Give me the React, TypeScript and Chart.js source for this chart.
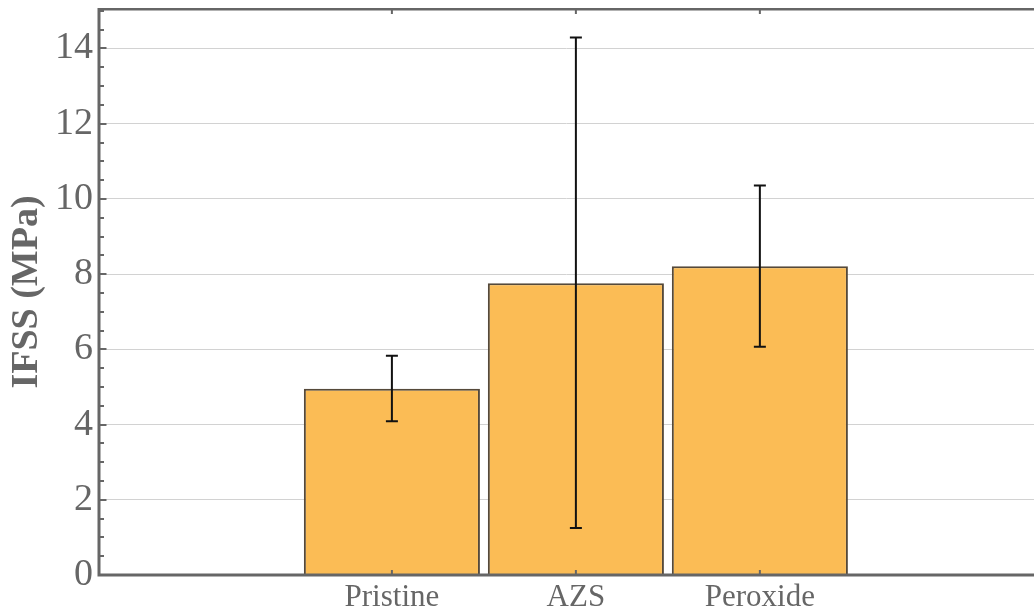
import React, { useEffect, useRef } from "react";
import { Chart, registerables } from "chart.js";

Chart.register(...registerables);

const categories = ["Pristine", "AZS", "Peroxide"];
const categoryPositions = [1, 2, 3];
const ifssMean = [4.95, 7.76, 8.21];
const errorLow = [4.09, 1.25, 6.07];
const errorHigh = [5.83, 14.29, 10.36];
const yTickValues = [0, 2, 4, 6, 8, 10, 12, 14];

const AXIS_COLOR = "#666666";
const FONT = "'Liberation Serif', 'Times New Roman', serif";

const errorBarPlugin = {
  id: "errorBars",
  afterDatasetsDraw(chart: any) {
    const { ctx } = chart;
    const xs = chart.scales.x;
    const ys = chart.scales.y;
    ctx.save();
    ctx.strokeStyle = "#111111";
    ctx.lineWidth = 2;
    categoryPositions.forEach((pos, i) => {
      const x = xs.getPixelForValue(pos);
      const yl = ys.getPixelForValue(errorLow[i]);
      const yh = ys.getPixelForValue(errorHigh[i]);
      ctx.beginPath();
      ctx.moveTo(x, yl);
      ctx.lineTo(x, yh);
      ctx.moveTo(x - 6, yl);
      ctx.lineTo(x + 6, yl);
      ctx.moveTo(x - 6, yh);
      ctx.lineTo(x + 6, yh);
      ctx.stroke();
    });
    ctx.restore();
  },
};

const framePlugin = {
  id: "frame",
  afterDraw(chart: any) {
    const { ctx, chartArea } = chart;
    const { left, right, top, bottom } = chartArea;
    const xs = chart.scales.x;
    const ys = chart.scales.y;
    ctx.save();
    ctx.strokeStyle = AXIS_COLOR;
    ctx.lineWidth = 2;
    for (let v = 0; v <= 15; v += 0.5) {
      const y = Math.round(ys.getPixelForValue(v));
      const major = Math.abs(v % 2) < 1e-9;
      const len = major ? 6 : 3.5;
      ctx.beginPath();
      ctx.moveTo(left, y);
      ctx.lineTo(left + 1.5 + len, y);
      ctx.stroke();
    }
    categoryPositions.forEach((pos) => {
      const x = xs.getPixelForValue(pos);
      ctx.beginPath();
      ctx.moveTo(x, bottom);
      ctx.lineTo(x, bottom - 5);
      ctx.moveTo(x, top);
      ctx.lineTo(x, top + 5);
      ctx.stroke();
    });
    ctx.lineWidth = 3;
    ctx.beginPath();
    ctx.moveTo(right + 2, top);
    ctx.lineTo(left, top);
    ctx.lineTo(left, bottom);
    ctx.lineTo(right + 2, bottom);
    ctx.stroke();
    ctx.restore();
  },
};

export default function App() {
  const canvasRef = useRef<HTMLCanvasElement | null>(null);

  useEffect(() => {
    document.documentElement.style.overflow = "hidden";
    document.body.style.overflow = "hidden";
    document.body.style.margin = "8px 0 0 8px";
    const canvas = canvasRef.current;
    if (!canvas) return;
    const chart = new Chart(canvas, {
      type: "bar",
      data: {
        datasets: [
          {
            label: "IFSS",
            data: categoryPositions.map((p, i) => ({ x: p, y: ifssMean[i] })),
            backgroundColor: "#fbbc55",
            borderColor: "#55493a",
            borderWidth: 2,
            categoryPercentage: 1,
            barPercentage: 0.957,
          },
        ],
      },
      options: {
        animation: false,
        responsive: false,
        maintainAspectRatio: false,
        devicePixelRatio: 1,
        layout: { padding: { top: 1, left: 0, right: 0, bottom: 0 } },
        plugins: {
          legend: { display: false },
          tooltip: { enabled: false },
        },
        scales: {
          x: {
            type: "linear",
            min: -0.592,
            max: 4.49,
            offset: false,
            grid: { display: false, drawTicks: false },
            border: { display: false },
            afterBuildTicks: (scale: any) => {
              scale.ticks = categoryPositions.map((v) => ({ value: v }));
            },
            afterFit: (scale: any) => {
              scale.height = 40;
              scale.paddingLeft = 0;
              scale.paddingRight = 0;
            },
            ticks: {
              autoSkip: false,
              maxRotation: 0,
              padding: 4,
              color: AXIS_COLOR,
              font: { family: FONT, size: 31 },
              callback: (value: any) => {
                const idx = categoryPositions.indexOf(Number(value));
                return idx >= 0 ? categories[idx] : "";
              },
            },
          },
          y: {
            type: "linear",
            min: 0,
            max: 15.05,
            grid: { color: "#d2d2d2", lineWidth: 1, drawTicks: false },
            border: { display: false },
            afterBuildTicks: (scale: any) => {
              scale.ticks = yTickValues.map((v) => ({ value: v }));
            },
            afterFit: (scale: any) => {
              scale.width = 91;
              scale.paddingTop = 0;
              scale.paddingBottom = 0;
            },
            title: {
              display: true,
              text: "IFSS (MPa)",
              color: AXIS_COLOR,
              font: { family: FONT, size: 38, weight: "bold", lineHeight: 1 },
              padding: 0,
            },
            ticks: {
              autoSkip: false,
              padding: 6,
              color: AXIS_COLOR,
              font: { family: FONT, size: 38 },
            },
          },
        },
      },
      plugins: [errorBarPlugin, framePlugin],
    });
    return () => chart.destroy();
  }, []);

  return (
    <div style={{ width: 1026, height: 607 }}>
      <canvas ref={canvasRef} width={1026} height={607} style={{ display: "block" }} />
    </div>
  );
}
